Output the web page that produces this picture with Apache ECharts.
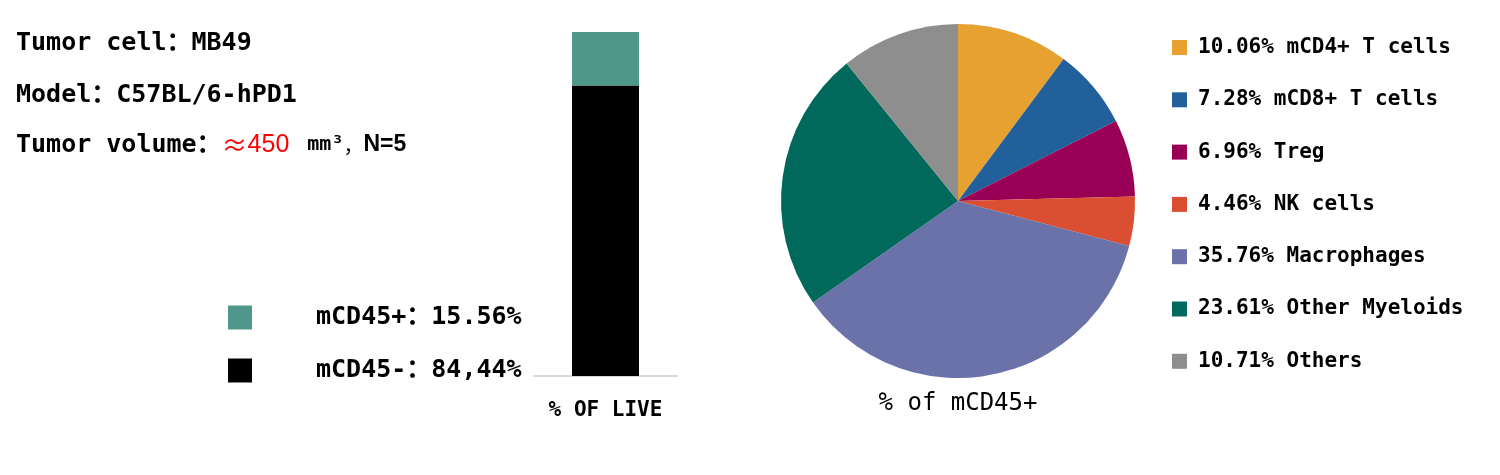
<!DOCTYPE html>
<html>
<head>
<meta charset="utf-8">
<script src="https://cdn.jsdelivr.net/npm/echarts@6/dist/echarts.min.js"></script>
<style>
html, body { margin: 0; padding: 0; background: #fff; }
#chart { width: 1500px; height: 475px; }
</style>
</head>
<body>
<div id="chart"></div>
<script>
var MONO = '"DejaVu Sans Mono", "Noto Sans CJK SC", monospace';
var SANS = '"Liberation Sans", Arial, sans-serif';
var CJK = '"Noto Sans CJK SC", sans-serif';

// bar: share of live cells
var barCategory = ['% OF LIVE'];
var barNames = ['mCD45+', 'mCD45-'];
var barValues = [15.56, 84.44];
var barLabels = ['mCD45+：15.56%', 'mCD45-：84,44%'];
var barColors = ['#4E978A', '#000000'];

// pie: composition of mCD45+
var pieNames = ['mCD4+ T cells', 'mCD8+ T cells', 'Treg', 'NK cells', 'Macrophages', 'Other Myeloids', 'Others'];
var pieValues = [10.06, 7.28, 6.96, 4.46, 35.76, 23.61, 10.71];
var pieLabels = ['10.06%', '7.28%', '6.96%', '4.46%', '35.76%', '23.61%', '10.71%'];
var pieColors = ['#E6A131', '#22609B', '#990055', '#DA4F32', '#6A72A9', '#00695C', '#8E8E8E'];

var myChart = echarts.init(document.getElementById('chart'));

var pieData = pieNames.map(function(n, i) {
	return { name: n, value: pieValues[i], itemStyle: { color: pieColors[i] } };
});

var option = {
	animation: false,
	textStyle: { fontFamily: MONO },
	grid: { left: 534, top: 32, width: 143, bottom: 99 },
	xAxis: {
		type: 'category',
		data: barCategory,
		axisLine: { lineStyle: { color: '#D9D9D9', width: 2 } },
		axisTick: { show: false },
		axisLabel: { margin: 24, color: '#000', fontSize: 21, fontWeight: 'bold', fontFamily: MONO }
	},
	yAxis: { type: 'value', min: 0, max: 100, show: false },
	legend: [{
		data: barNames,
		orient: 'vertical',
		left: 228,
		top: 305,
		padding: 0,
		itemWidth: 24,
		itemHeight: 24,
		itemGap: 28,
		icon: 'rect',
		formatter: function(n) { return barLabels[barNames.indexOf(n)]; },
		textStyle: { fontSize: 25, fontWeight: 'bold', color: '#000', fontFamily: MONO, lineHeight: 24, padding: [0, 0, 0, 59] }
	}, {
		data: pieNames,
		orient: 'vertical',
		left: 1172,
		top: 37,
		padding: 0,
		itemWidth: 15,
		itemHeight: 15,
		itemGap: 31.3,
		icon: 'rect',
		formatter: function(n) { return pieLabels[pieNames.indexOf(n)] + ' ' + n; },
		textStyle: { fontSize: 21, fontWeight: 'bold', color: '#000', fontFamily: MONO, lineHeight: 21, padding: [0, 0, 0, 6] }
	}],
	series: [{
		name: barNames[1],
		type: 'bar',
		stack: 'live',
		barWidth: 67,
		data: [barValues[1]],
		itemStyle: { color: barColors[1] }
	}, {
		name: barNames[0],
		type: 'bar',
		stack: 'live',
		barWidth: 67,
		data: [barValues[0]],
		itemStyle: { color: barColors[0] }
	}, {
		type: 'pie',
		center: [958, 201],
		radius: 177,
		startAngle: 90,
		clockwise: true,
		label: { show: false },
		labelLine: { show: false },
		itemStyle: { borderWidth: 0 },
		data: pieData
	}],
	graphic: [{
		type: 'text', left: 16, top: 31,
		style: { text: 'Tumor cell：MB49', font: 'bold 25px ' + MONO, fill: '#000' }
	}, {
		type: 'text', left: 16, top: 83,
		style: { text: 'Model：C57BL/6-hPD1', font: 'bold 25px ' + MONO, fill: '#000' }
	}, {
		type: 'text', left: 16, top: 132,
		style: {
			text: '{a|Tumor volume：}{r1|≈}{r2|450}{m|mm³}{c|，}{n|N=5}',
			rich: {
				a: { font: 'bold 25px ' + MONO, fill: '#000' },
				r1: { font: '26px ' + CJK, fill: '#FF0000' },
				r2: { font: '25px ' + SANS, fill: '#FF0000' },
				m: { font: 'bold 20px ' + MONO, fill: '#000', padding: [0, 0, 0, 18] },
				c: { font: '20px ' + CJK, fill: '#000' },
				n: { font: 'bold 23px ' + SANS, fill: '#000' }
			}
		}
	}, {
		type: 'text', x: 958, y: 404,
		style: { text: '% of mCD45+', font: '24px ' + MONO, fill: '#000', align: 'center', verticalAlign: 'middle' }
	}]
};

myChart.setOption(option);
</script>
</body>
</html>
